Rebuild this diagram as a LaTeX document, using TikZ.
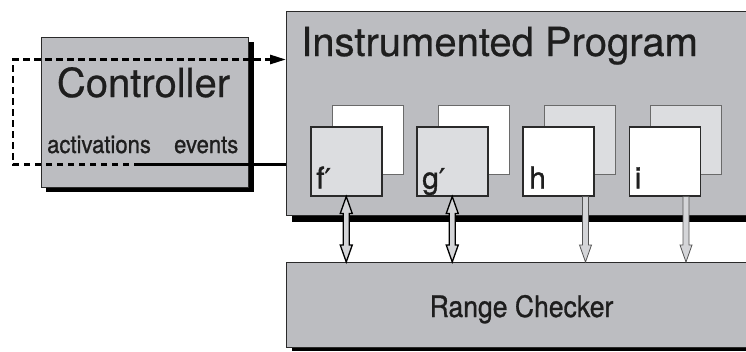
\documentclass[tikz,border=0pt]{standalone}
\usepackage{fontspec}
\setmainfont[FakeBold=0.6]{TeX Gyre Heros}
\newfontfamily\mainheavy[FakeBold=1.1]{TeX Gyre Heros}
\newfontfamily\condfont[FakeStretch=0.9,FakeBold=0.9]{TeX Gyre Heros}
\newfontfamily\primefont[FakeBold=1]{DejaVu Sans}
\usetikzlibrary{calc,arrows.meta}
\definecolor{boxgray}{HTML}{BCBDC1}
\definecolor{lightg}{HTML}{DCDDE0}
\definecolor{edgec}{HTML}{2A2A2A}
\definecolor{backedge}{HTML}{6A6A6A}
\definecolor{arrowfill}{HTML}{D4D5D8}
\definecolor{thinarrow}{HTML}{555555}
\definecolor{txt}{HTML}{1E1E1E}
\tikzset{
  bigbox/.style={draw=edgec, line width=0.8pt, fill=boxgray, inner sep=0pt, anchor=north west},
  shadowbox/.style={fill=black, draw=none},
  frontbox/.style={draw=edgec, line width=1.5pt, minimum width=71pt, minimum height=69pt, inner sep=0pt, anchor=north west},
  backbox/.style={draw=backedge, line width=0.8pt, minimum width=71pt, minimum height=69pt, inner sep=0pt, anchor=north west},
  lbl/.style={font=\mainheavy\fontsize{30}{30}\selectfont, text=txt, inner sep=0pt, anchor=base west},
  boldarrow/.style={draw=black, line width=1.3pt, fill=arrowfill, line join=miter},
  lightarrow/.style={draw=thinarrow, line width=0.8pt, fill=arrowfill, line join=miter},
  dashloop/.style={line width=2.8pt, dash pattern=on 6.5pt off 4.5pt, black},
  solidwire/.style={line width=2.8pt, black},
}
\newcommand\pr{{\primefont\fontsize{28}{28}\selectfont ′}}
\newcommand\dblarrow[3][]{%
  \filldraw[#1] (#2) -- ($(#2)+(6,17)$) -- ($(#2)+(3,17)$) -- ($(#3)+(3,-17)$) -- ($(#3)+(6,-17)$)
    -- (#3) -- ($(#3)+(-6,-17)$) -- ($(#3)+(-3,-17)$) -- ($(#2)+(-3,17)$) -- ($(#2)+(-6,17)$) -- cycle;}
\newcommand\sglarrow[3][]{%
  \filldraw[#1] ($(#2)+(-3,0)$) -- ($(#2)+(3,0)$) -- ($(#3)+(3,-17)$) -- ($(#3)+(6,-17)$)
    -- (#3) -- ($(#3)+(-6,-17)$) -- ($(#3)+(-3,-17)$) -- cycle;}
\begin{document}
\begin{tikzpicture}[x=1pt,y=-1pt]
\useasboundingbox (0,0) rectangle (746,351);
\clip (0,0) rectangle (746,351);
% shadows
\fill[shadowbox] (46,42) rectangle (253.5,192);
\fill[shadowbox] (292,17) rectangle (790,221.7);
\fill[shadowbox] (291.5,266) rectangle (790,351);
% big boxes
\node[bigbox, minimum width=207pt, minimum height=150pt] (ctrl) at (41,37) {};
\node[bigbox, minimum width=480pt, minimum height=204pt] (prog) at (286,11) {};
\node[bigbox, minimum width=480pt, minimum height=85pt] (rc) at (286,262) {};
% titles
\node[font=\fontsize{40}{40}\selectfont, text=txt, inner sep=0pt, anchor=base] (ctrltitle) at (143.5,97) {Controller};
\node[font=\fontsize{40}{40}\selectfont, text=txt, inner sep=0pt, anchor=base west] (progtitle) at (301,56) {Instrumented Program};
\node[font=\condfont\fontsize{29.5}{29.5}\selectfont, text=txt, inner sep=0pt, anchor=base] (rctitle) at (521.5,317) {Range Checker};
\node[font=\condfont\fontsize{24.5}{24.5}\selectfont, text=txt, inner sep=0pt, anchor=base west] (act) at (47,153) {activations};
\node[font=\condfont\fontsize{24.5}{24.5}\selectfont, text=txt, inner sep=0pt, anchor=base east] (ev) at (238.5,153) {events};
% back boxes
\node[backbox, fill=white] (fb) at (331.5,105) {};
\node[backbox, fill=white] (gb) at (437.5,105) {};
\node[backbox, fill=lightg] (hb) at (543.5,105) {};
\node[backbox, fill=lightg] (ib) at (649.5,105) {};
% front boxes
\node[frontbox, fill=lightg] (f) at (310,126) {};
\node[frontbox, fill=lightg] (g) at (416,126) {};
\node[frontbox, fill=white] (h) at (522,126) {};
\node[frontbox, fill=white] (i) at (628.5,126) {};
\node[lbl] (fl) at ($(f.south west)+(6,-8)$) {f\pr};
\node[lbl] (gl) at ($(g.south west)+(6,-8)$) {g\pr};
\node[lbl] (hl) at ($(h.south west)+(7,-8)$) {h};
\node[lbl] (il) at ($(i.south west)+(6,-8)$) {i};
% connector points
\coordinate (ftop) at (f.south);
\coordinate (fbot) at (f.south |- rc.north);
\coordinate (gtop) at (g.south);
\coordinate (gbot) at (g.south |- rc.north);
\coordinate (htop) at ($(h.south east)+(-9,0)$);
\coordinate (hbot) at (htop |- rc.north);
\coordinate (itop) at ($(i.south east)+(-15,0)$);
\coordinate (ibot) at (itop |- rc.north);
\dblarrow[boldarrow]{ftop}{fbot}
\dblarrow[boldarrow]{gtop}{gbot}
\sglarrow[lightarrow]{htop}{hbot}
\sglarrow[lightarrow]{itop}{ibot}
% activation / event wires
\coordinate (split) at (140,164.5);
\coordinate (lc1) at (13,164.5);
\coordinate (lc2) at (13,59.5);
\draw[solidwire] (prog.west |- split) -- (split);
\draw[dashloop, -{Triangle[length=16pt,width=9pt]}] (split) -- (lc1) -- (lc2) -- (prog.west |- lc2);
\end{tikzpicture}
\end{document}
